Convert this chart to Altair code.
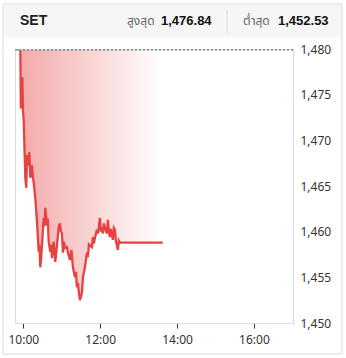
import altair as alt
import pandas as pd

# ---- data ----
prev_close = 1479.9
pre_times = ["09:47:00", "09:55:20"]
pre_values = [1479.9, 1479.9]

times = [
    "09:55:20", "09:56:06", "09:57:12", "09:58:26", "09:59:32", "10:00:37",
    "10:03:07", "10:04:40", "10:05:46", "10:07:30", "10:09:21", "10:10:55",
    "10:13:34", "10:14:50", "10:16:12", "10:18:42", "10:21:21", "10:24:00",
    "10:25:10", "10:26:29", "10:27:40", "10:29:08", "10:31:47", "10:33:00",
    "10:34:17", "10:36:56", "10:38:10", "10:39:35", "10:42:05", "10:43:20",
    "10:44:44", "10:47:23", "10:48:40", "10:49:52", "10:52:31", "10:55:10",
    "10:57:12", "10:58:40", "11:00:19", "11:01:52", "11:03:30", "11:05:00",
    "11:08:06", "11:09:40", "11:12:47", "11:15:07", "11:17:27", "11:20:34",
    "11:22:10", "11:23:41", "11:25:14", "11:26:50", "11:28:22", "11:31:29",
    "11:33:02", "11:36:10", "11:39:17", "11:40:50", "11:42:20", "11:43:58",
    "11:47:05", "11:48:38", "11:50:10", "11:51:46", "11:54:53", "11:56:26",
    "11:58:00", "11:59:34", "12:01:10", "12:02:41", "12:04:14", "12:05:50",
    "12:07:22", "12:10:29", "12:12:00", "12:13:30", "12:15:07", "12:16:40",
    "12:18:14", "12:19:47", "12:21:20", "12:22:55", "12:24:30", "12:26:02",
    "12:27:35", "12:29:10", "12:30:43", "13:37:42",
]
values = [
    1479.9, 1473.5, 1476.8, 1476.8, 1473.1, 1472.2,
    1465.9, 1464.8, 1468.4, 1467.2, 1468.7, 1465.9,
    1467.3, 1466.0, 1465.4, 1463.7, 1461.1, 1457.8,
    1458.6, 1456.1, 1457.0, 1458.5, 1461.5, 1460.6,
    1462.6, 1460.7, 1461.4, 1458.9, 1457.8, 1458.6,
    1457.1, 1458.9, 1457.9, 1456.7, 1458.5, 1460.5,
    1460.9, 1460.0, 1459.8, 1457.7, 1458.9, 1458.2,
    1458.3, 1457.7, 1456.9, 1458.0, 1456.1, 1455.0,
    1455.6, 1453.9, 1454.4, 1453.3, 1452.5, 1453.3,
    1455.0, 1456.1, 1457.7, 1457.2, 1458.6, 1458.5,
    1458.3, 1459.4, 1458.7, 1459.3, 1460.2, 1459.8,
    1460.6, 1461.5, 1460.0, 1460.5, 1459.8, 1460.9,
    1460.4, 1459.8, 1461.3, 1460.1, 1459.4, 1460.3,
    1459.8, 1459.1, 1460.4, 1460.2, 1459.0, 1458.5,
    1458.0, 1459.0, 1458.8, 1458.8,
]

x_ticks = ["10:00", "12:00", "14:00", "16:00"]
y_ticks = [1450, 1455, 1460, 1465, 1470, 1475, 1480]
header_title = "SET"
high_label, high_value = "สูงสุด", "1,476.84"
low_label, low_value = "ต่ำสุด", "1,452.53"
x_start, x_end = "09:47", "17:01"


def to_min(s):
    parts = [int(p) for p in s.split(":")]
    while len(parts) < 3:
        parts.append(0)
    return parts[0] * 60 + parts[1] + parts[2] / 60.0


df = pd.DataFrame({"t": [to_min(s) for s in times], "v": values, "base": prev_close})
pre_df = pd.DataFrame({"t": [to_min(s) for s in pre_times], "v": pre_values})
one = pd.DataFrame({"a": [0]})

FONT = "Noto Sans, Open Sans, Noto Sans Thai, Tahoma, sans-serif"
HFONT = "Liberation Sans, Arial, Noto Sans Thai, sans-serif"

x_scale = alt.Scale(domain=[to_min(x_start), to_min(x_end)], nice=False, zero=False)
y_scale = alt.Scale(domain=[1450, 1480], nice=False, zero=False)

x_enc = alt.X(
    "t:Q", scale=x_scale, title=None,
    axis=alt.Axis(
        values=[to_min(s) for s in x_ticks],
        labelExpr="floor(datum.value/60) + ':' + (datum.value%60 < 10 ? '0' : '') + (datum.value%60)",
        domainColor="#dddddd", tickColor="#333333", tickSize=5, labelPadding=6,
        labelColor="#333333", labelFontSize=12, labelFont=FONT, grid=False,
    ),
)
y_enc = alt.Y(
    "v:Q", scale=y_scale, title=None,
    axis=alt.Axis(
        orient="right", values=y_ticks, format=",", ticks=False,
        domainColor="#dddddd", labelPadding=7, labelColor="#333333",
        labelFontSize=12, labelFont=FONT, grid=False,
    ),
)

grad = alt.Gradient(
    gradient="linear",
    stops=[alt.GradientStop(color="#f3aaaa", offset=0),
           alt.GradientStop(color="#ffffff", offset=1)],
    x1=0, x2=1, y1=0, y2=0,
)

area = alt.Chart(df).mark_area(fill=grad, opacity=1).encode(
    x=x_enc, y=y_enc, y2="base:Q"
)
line = alt.Chart(df).mark_line(color="#e84142", strokeWidth=2.3, strokeJoin="miter").encode(
    x="t:Q", y="v:Q"
)
pre_line = alt.Chart(pre_df).mark_line(color="#7cc48a", strokeWidth=2).encode(x="t:Q", y="v:Q")
ref = alt.Chart(pd.DataFrame({"v": [prev_close]})).mark_rule(
    color="#3d5566", strokeDash=[2, 2], strokeWidth=1
).encode(y="v:Q")

# header and frame decorations
header_bg = alt.Chart(one).mark_rect(color="#f6f6f6").encode(
    x=alt.value(-12), x2=alt.value(327), y=alt.value(-45), y2=alt.value(-12)
)
frame = alt.Chart(one).mark_rect(fillOpacity=0, stroke="#dddddd", strokeWidth=1).encode(
    x=alt.value(-12), x2=alt.value(327), y=alt.value(-45), y2=alt.value(305)
)
sep = alt.Chart(one).mark_rule(color="#dddddd").encode(
    x=alt.value(212), y=alt.value(-39), y2=alt.value(-16)
)


def txt(s, x, bold=False, color="#222222", size=12):
    return alt.Chart(one).mark_text(
        text=s, align="left", baseline="middle", font=HFONT, fontSize=size,
        fontWeight="bold" if bold else "normal", color=color
    ).encode(x=alt.value(x), y=alt.value(-28))


texts = [
    txt(header_title, 5, bold=True, size=14),
    txt(high_label, 112, color="#666666"),
    txt(high_value, 146, bold=True, color="#111111", size=13),
    txt(low_label, 228, color="#666666"),
    txt(low_value, 263, bold=True, color="#111111", size=13),
]

chart = alt.layer(
    header_bg, frame, sep, area, ref, line, pre_line, *texts
).properties(
    width=278, height=274,
    padding={"left": 15, "top": 49, "right": 53, "bottom": 35},
    autosize=alt.AutoSizeParams(type="none"),
).configure_view(stroke=None).configure(background="white")

chart.save("out.html", embed_options={"renderer": "svg", "actions": False})
